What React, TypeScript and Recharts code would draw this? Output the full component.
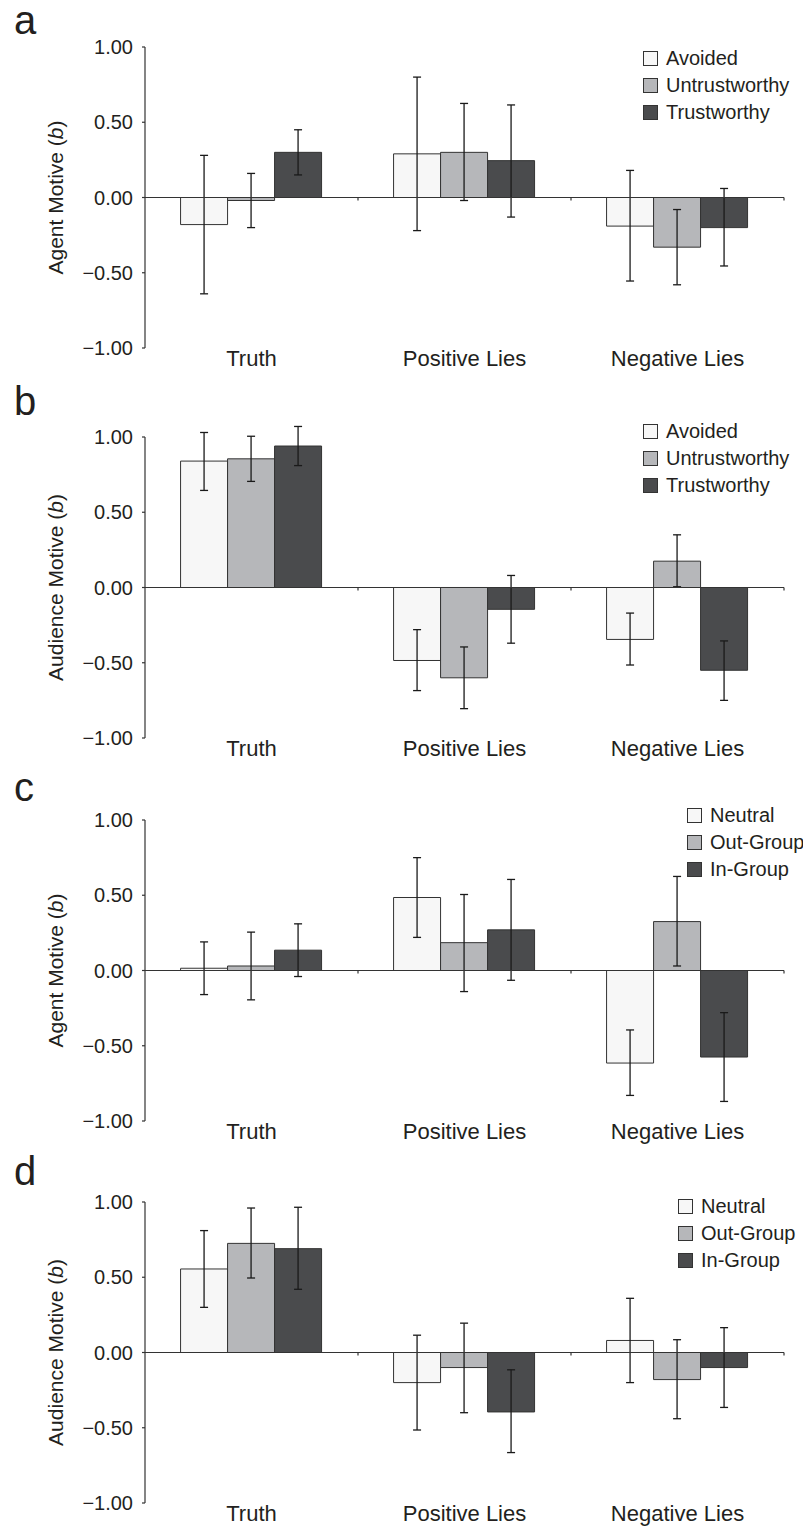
import React from 'react';
import { BarChart, Bar, XAxis, YAxis, ReferenceLine, ErrorBar, Legend } from 'recharts';

const categories = ['Truth', 'Positive Lies', 'Negative Lies'];
const yTicks = [-1, -0.5, 0, 0.5, 1];

const trustNames = ['Avoided', 'Untrustworthy', 'Trustworthy'];
const groupNames = ['Neutral', 'Out-Group', 'In-Group'];
const fills = ['#f7f7f7', '#b6b7ba', '#4a4b4d'];

// each inner array = one series, values per category (Truth, Positive, Negative)
// panel a - agent motive by trust
const aMeans = [[-0.18, 0.29, -0.19], [-0.02, 0.3, -0.33], [0.3, 0.245, -0.2]];
const aLow = [[-0.64, -0.22, -0.555], [-0.2, -0.02, -0.58], [0.15, -0.13, -0.455]];
const aHigh = [[0.28, 0.8, 0.18], [0.16, 0.625, -0.08], [0.45, 0.615, 0.06]];

// panel b - audience motive by trust
const bMeans = [[0.84, -0.485, -0.345], [0.855, -0.6, 0.175], [0.94, -0.145, -0.55]];
const bLow = [[0.645, -0.685, -0.515], [0.705, -0.805, 0.005], [0.81, -0.37, -0.75]];
const bHigh = [[1.03, -0.28, -0.17], [1.005, -0.395, 0.35], [1.07, 0.08, -0.355]];

// panel c - agent motive by group
const cMeans = [[0.015, 0.485, -0.615], [0.03, 0.185, 0.325], [0.135, 0.27, -0.575]];
const cLow = [[-0.16, 0.22, -0.83], [-0.195, -0.14, 0.03], [-0.04, -0.065, -0.87]];
const cHigh = [[0.19, 0.75, -0.395], [0.255, 0.505, 0.625], [0.31, 0.605, -0.28]];

// panel d - audience motive by group
const dMeans = [[0.555, -0.2, 0.08], [0.725, -0.1, -0.18], [0.69, -0.395, -0.1]];
const dLow = [[0.3, -0.515, -0.2], [0.495, -0.4, -0.44], [0.42, -0.665, -0.365]];
const dHigh = [[0.81, 0.115, 0.36], [0.96, 0.195, 0.085], [0.965, -0.115, 0.165]];

const FONT = "'Liberation Sans', Arial, sans-serif";
const INK = '#231f20';

function buildRows(means: number[][], low: number[][], high: number[][]) {
  return categories.map((cat, i) => {
    const row: any = { cat };
    means.forEach((s, j) => {
      row['s' + j] = s[i];
      row['e' + j] = [s[i] - low[j][i], high[j][i] - s[i]];
    });
    return row;
  });
}

const fmt = (v: number) => (v < 0 ? '\u2212' : '') + Math.abs(v).toFixed(2);

const ZeroLine = (props: any) => {
  const { x1, y1, x2, y2 } = props;
  const w = x2 - x1;
  return (
    <g>
      <line x1={x1} y1={y1} x2={x2} y2={y2} stroke="#333" strokeWidth={1.2} />
      {[1, 2, 3].map((k) => (
        <line key={k} x1={x1 + (w * k) / 3} x2={x1 + (w * k) / 3} y1={y1} y2={y1 + 3} stroke="#333" strokeWidth={1.2} />
      ))}
    </g>
  );
};

const YTitle = (props: any) => {
  const vb = props.viewBox || { y: 40, height: 301 };
  const cy = vb.y + vb.height / 2;
  const x = 63;
  return (
    <text x={x} y={cy} transform={`rotate(-90, ${x}, ${cy})`} textAnchor="middle" fontSize={21} fill={INK} fontFamily={FONT}>
      {props.text} (<tspan fontStyle="italic">b</tspan>)
    </text>
  );
};

const LegendBox = (props: any) => {
  const order: string[] = props.order || [];
  const items = [...(props.payload || [])].sort((p: any, q: any) => order.indexOf(p.value) - order.indexOf(q.value));
  return (
    <div style={{ fontFamily: FONT }}>
      {items.map((e: any) => (
        <div key={e.value} style={{ display: 'flex', alignItems: 'center', height: 27, fontSize: 20, color: INK, whiteSpace: 'nowrap' }}>
          <span style={{ display: 'inline-block', width: 13, height: 13, background: e.color, border: '1.5px solid #333', marginRight: 8 }} />
          {e.value}
        </div>
      ))}
    </div>
  );
};

type PanelProps = {
  top: number;
  yLabel: string;
  names: string[];
  rows: any[];
  legendLeft: number;
  legendTop: number;
};

function Panel({ top, yLabel, names, rows, legendLeft, legendTop }: PanelProps) {
  return (
    <div style={{ position: 'absolute', left: 0, top, width: 803, height: 380 }}>
      <BarChart
        width={803}
        height={380}
        data={rows}
        margin={{ top: 40, right: 19, bottom: 4, left: 0 }}
        barGap={0}
        barCategoryGap="16.7%"
      >
        <XAxis
          dataKey="cat"
          axisLine={false}
          tickLine={false}
          tickSize={0}
          tickMargin={2}
          height={35}
          interval={0}
          tick={{ fontSize: 22, fill: INK, fontFamily: FONT }}
        />
        <YAxis
          domain={[-1, 1]}
          ticks={yTicks}
          allowDataOverflow
          width={145}
          tickSize={3}
          tickMargin={9}
          tickFormatter={fmt}
          axisLine={{ stroke: '#333', strokeWidth: 1.2 }}
          tickLine={{ stroke: '#333', strokeWidth: 1.2 }}
          tick={{ fontSize: 20, fill: INK, fontFamily: FONT }}
          label={<YTitle text={yLabel} />}
        />
        {names.map((n, j) => (
          <Bar key={n} dataKey={'s' + j} name={n} fill={fills[j]} stroke="#333" strokeWidth={1} isAnimationActive={false}>
            <ErrorBar dataKey={'e' + j} width={4} stroke="#1a1a1a" strokeWidth={1.3} isAnimationActive={false} />
          </Bar>
        ))}
        <ReferenceLine y={0} shape={<ZeroLine />} />
        <Legend
          layout="vertical"
          align="center"
          verticalAlign="middle"
          content={<LegendBox order={names} />}
          wrapperStyle={{ left: legendLeft, top: legendTop, width: 'auto', height: 'auto' }}
        />
      </BarChart>
    </div>
  );
}

const letters = [
  { t: 'a', y: 34 },
  { t: 'b', y: 415 },
  { t: 'c', y: 801 },
  { t: 'd', y: 1185 },
];

export default function App() {
  return (
    <div style={{ position: 'absolute', left: 0, top: 0, width: 803, height: 1528, overflow: 'hidden', background: '#fff', fontFamily: FONT }}>
      <Panel top={7} yLabel="Agent Motive" names={trustNames} rows={buildRows(aMeans, aLow, aHigh)} legendLeft={643} legendTop={37.5} />
      <Panel top={397} yLabel="Audience Motive" names={trustNames} rows={buildRows(bMeans, bLow, bHigh)} legendLeft={643} legendTop={20.5} />
      <Panel top={780} yLabel="Agent Motive" names={groupNames} rows={buildRows(cMeans, cLow, cHigh)} legendLeft={687} legendTop={21.5} />
      <Panel top={1162} yLabel="Audience Motive" names={groupNames} rows={buildRows(dMeans, dLow, dHigh)} legendLeft={678} legendTop={30.5} />
      <svg width={803} height={1528} style={{ position: 'absolute', left: 0, top: 0, pointerEvents: 'none' }}>
        {letters.map((l) => (
          <text key={l.t} x={14} y={l.y} fontSize={40} fill={INK} fontFamily={FONT}>
            {l.t}
          </text>
        ))}
      </svg>
    </div>
  );
}
